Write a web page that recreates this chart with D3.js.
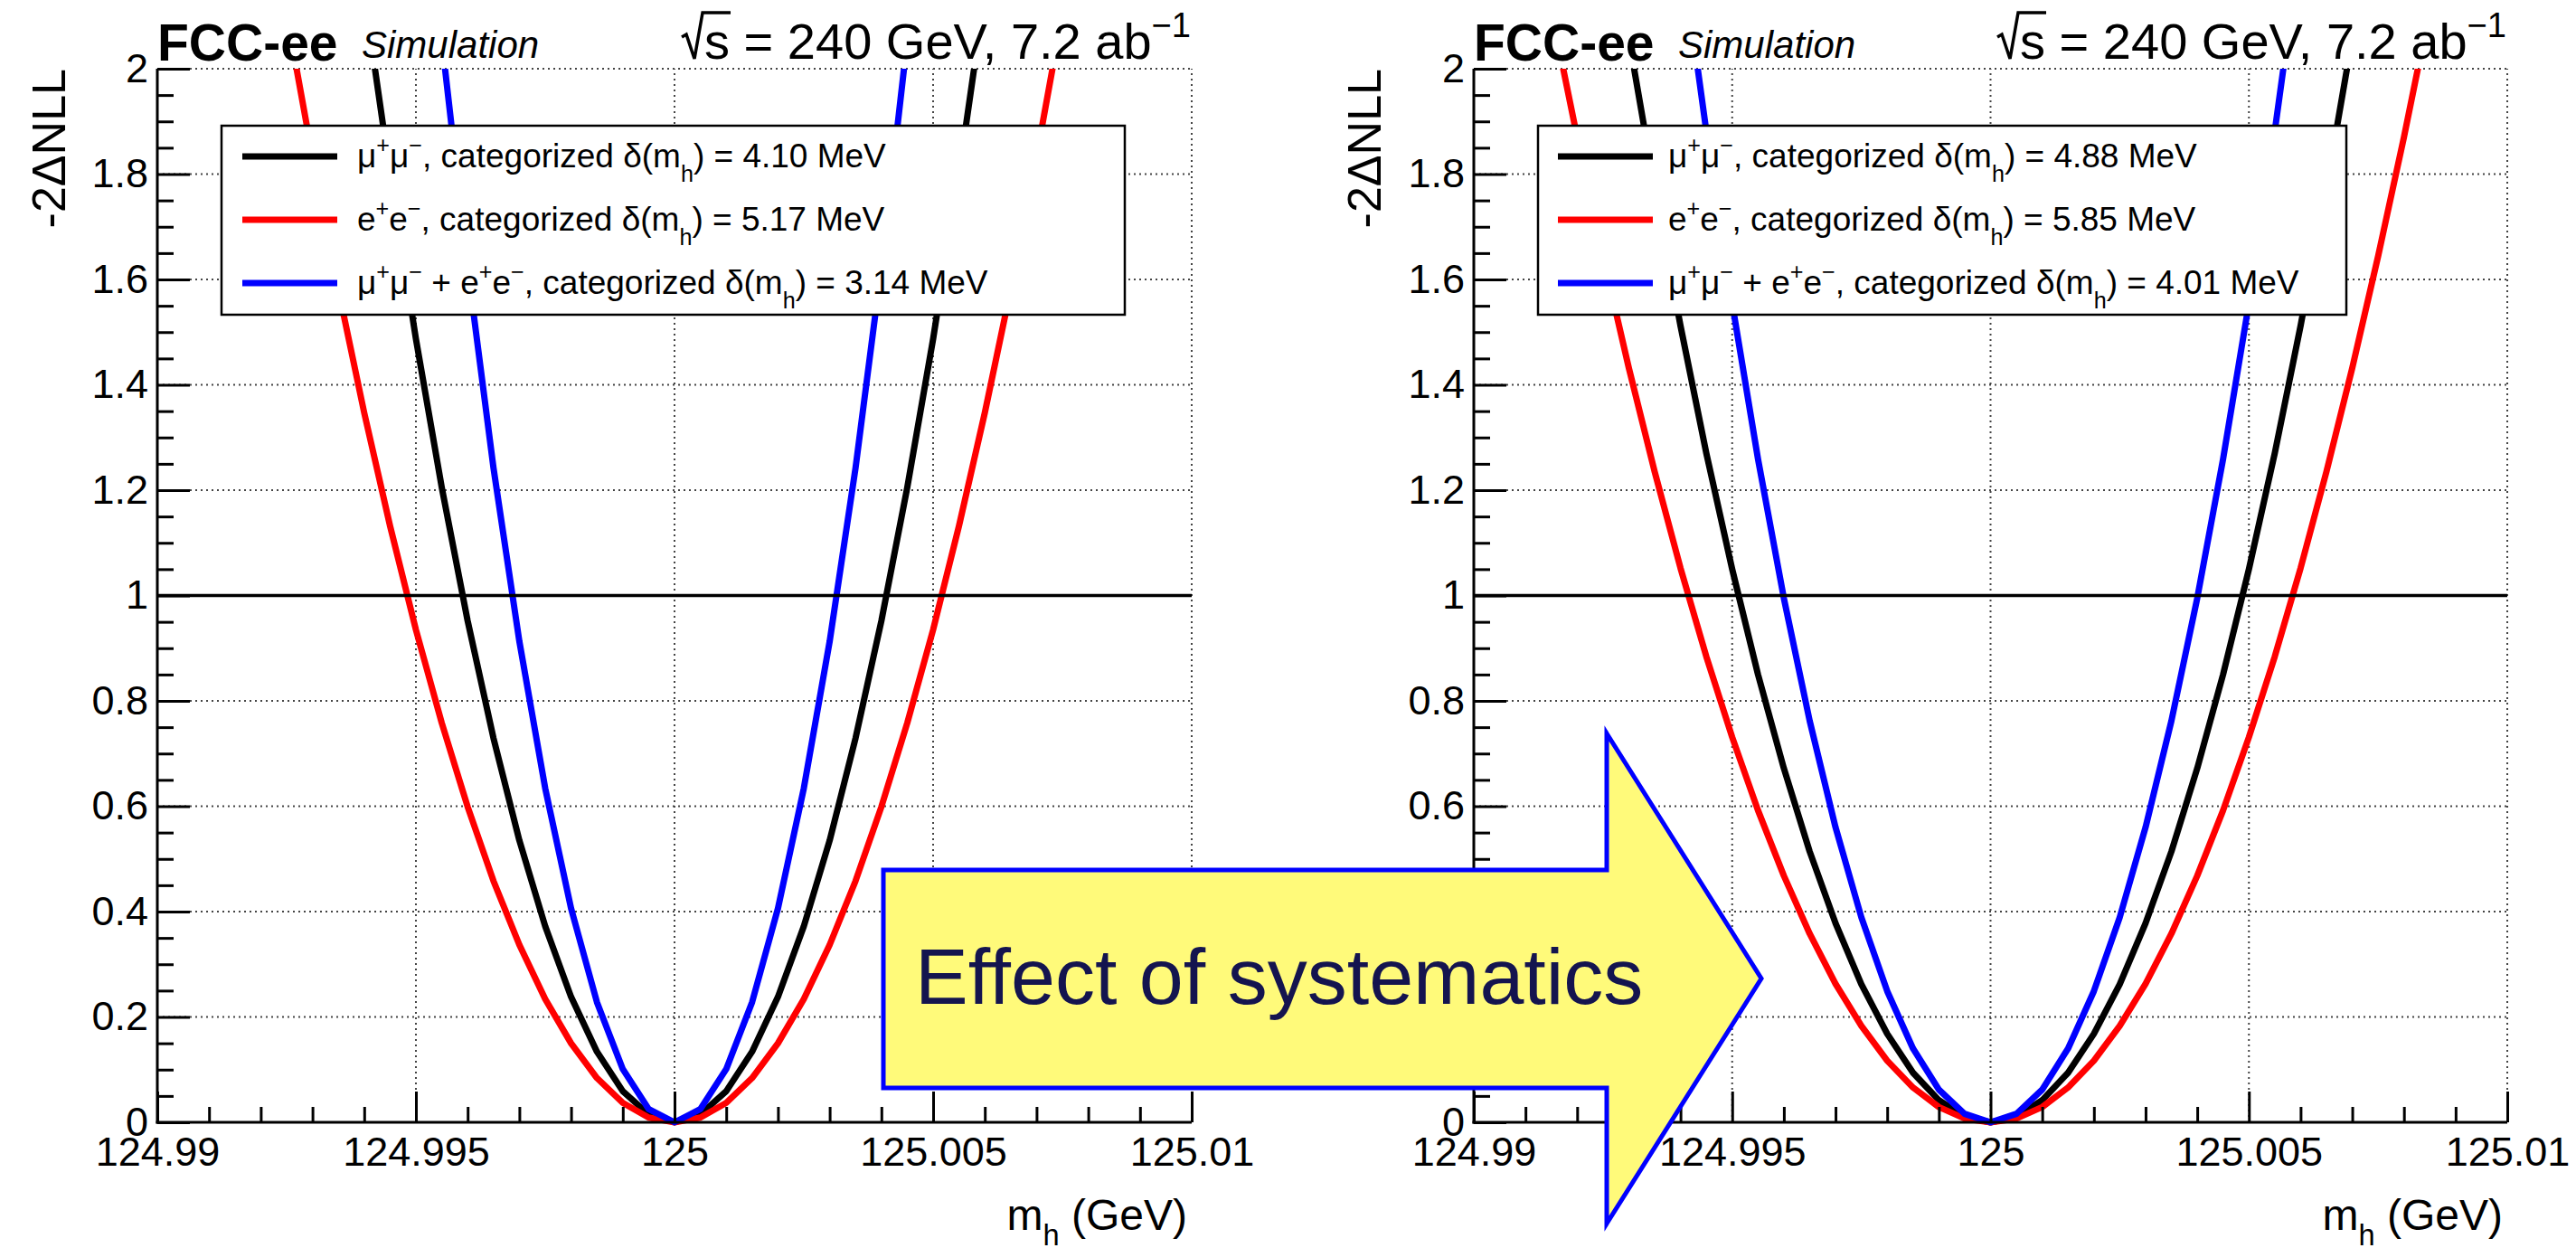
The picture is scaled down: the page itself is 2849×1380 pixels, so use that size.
<!DOCTYPE html>
<html>
<head>
<meta charset="utf-8">
<script src="https://cdn.jsdelivr.net/npm/d3@7"></script>
<style>
  html, body { margin: 0; padding: 0; background: #fff; }
  svg { display: block; font-family: "Liberation Sans", Arial, Helvetica, sans-serif; }
</style>
</head>
<body>
<svg id="fig" width="2849" height="1380"></svg>
<script>
// ---------------------------------------------------------------
// Likelihood scans: -2ΔNLL versus m_h (GeV), one grid for all curves
// ---------------------------------------------------------------
const massGrid = [
  124.9900, 124.9905, 124.9910, 124.9915, 124.9920, 124.9925, 124.9930, 124.9935,
  124.9940, 124.9945, 124.9950, 124.9955, 124.9960, 124.9965, 124.9970, 124.9975,
  124.9980, 124.9985, 124.9990, 124.9995, 125.0000, 125.0005, 125.0010, 125.0015,
  125.0020, 125.0025, 125.0030, 125.0035, 125.0040, 125.0045, 125.0050, 125.0055,
  125.0060, 125.0065, 125.0070, 125.0075, 125.0080, 125.0085, 125.0090, 125.0095,
  125.0100
];

// statistics only
const statMuMu = [5.949, 5.369, 4.819, 4.298, 3.807, 3.346, 2.915, 2.513, 2.142, 1.800, 1.487, 1.205, 0.952, 0.729, 0.535, 0.372, 0.238, 0.134, 0.059, 0.015, 0,
                  0.015, 0.059, 0.134, 0.238, 0.372, 0.535, 0.729, 0.952, 1.205, 1.487, 1.800, 2.142, 2.513, 2.915, 3.346, 3.807, 4.298, 4.819, 5.369, 5.949];
const statEE   = [3.741, 3.376, 3.030, 2.703, 2.394, 2.104, 1.833, 1.581, 1.347, 1.132, 0.935, 0.758, 0.599, 0.458, 0.337, 0.234, 0.150, 0.084, 0.037, 0.009, 0,
                  0.009, 0.037, 0.084, 0.150, 0.234, 0.337, 0.458, 0.599, 0.758, 0.935, 1.132, 1.347, 1.581, 1.833, 2.104, 2.394, 2.703, 3.030, 3.376, 3.741];
const statComb = [10.142, 9.154, 8.215, 7.328, 6.491, 5.705, 4.970, 4.285, 3.651, 3.068, 2.536, 2.054, 1.623, 1.242, 0.913, 0.634, 0.406, 0.228, 0.101, 0.025, 0,
                  0.025, 0.101, 0.228, 0.406, 0.634, 0.913, 1.242, 1.623, 2.054, 2.536, 3.068, 3.651, 4.285, 4.970, 5.705, 6.491, 7.328, 8.215, 9.154, 10.142];

// with systematic uncertainties
const systMuMu = [4.199, 3.790, 3.401, 3.034, 2.687, 2.362, 2.058, 1.774, 1.512, 1.270, 1.050, 0.850, 0.672, 0.514, 0.378, 0.262, 0.168, 0.094, 0.042, 0.010, 0,
                  0.010, 0.042, 0.094, 0.168, 0.262, 0.378, 0.514, 0.672, 0.850, 1.050, 1.270, 1.512, 1.774, 2.058, 2.362, 2.687, 3.034, 3.401, 3.790, 4.199];
const systEE   = [2.922, 2.637, 2.367, 2.111, 1.870, 1.644, 1.432, 1.235, 1.052, 0.884, 0.731, 0.592, 0.468, 0.358, 0.263, 0.183, 0.117, 0.066, 0.029, 0.007, 0,
                  0.007, 0.029, 0.066, 0.117, 0.183, 0.263, 0.358, 0.468, 0.592, 0.731, 0.884, 1.052, 1.235, 1.432, 1.644, 1.870, 2.111, 2.367, 2.637, 2.922];
const systComb = [6.219, 5.613, 5.037, 4.493, 3.980, 3.498, 3.047, 2.627, 2.239, 1.881, 1.555, 1.259, 0.995, 0.762, 0.560, 0.389, 0.249, 0.140, 0.062, 0.016, 0,
                  0.016, 0.062, 0.140, 0.249, 0.389, 0.560, 0.762, 0.995, 1.259, 1.555, 1.881, 2.239, 2.627, 3.047, 3.498, 3.980, 4.493, 5.037, 5.613, 6.219];

// resolution quoted in each legend entry (MeV)
const statDelta = [4.10, 5.17, 3.14];
const systDelta = [4.88, 5.85, 4.01];

const channels = ["mumu", "ee", "comb"];
const channelColors = ["#000000", "#ff0000", "#0000ff"];

// axis ticks
const xMajorTicks = [124.99, 124.995, 125, 125.005, 125.01];
const xTickLabels = ["124.99", "124.995", "125", "125.005", "125.01"];
const yMajorTicks = [0, 0.2, 0.4, 0.6, 0.8, 1, 1.2, 1.4, 1.6, 1.8, 2];
const yTickLabels = ["0", "0.2", "0.4", "0.6", "0.8", "1", "1.2", "1.4", "1.6", "1.8", "2"];
const xMinorTicks = d3.range(0, 21).map(i => 124.99 + i * 0.001).filter((v, i) => i % 5 !== 0);
const yMinorTicks = d3.range(0, 41).map(i => i * 0.05).filter((v, i) => i % 4 !== 0);

// ---------------------------------------------------------------
const svg = d3.select("#fig");
svg.append("rect").attr("width", 2849).attr("height", 1380).attr("fill", "#fff");
const defs = svg.append("defs");

const FONT = "'Liberation Sans', Arial, Helvetica, sans-serif";

// text made of normal / superscript / subscript runs
function richText(sel, parts, size, subShift = 0.42) {
  let cur = 0;
  parts.forEach(([s, mode]) => {
    const off = mode === "sup" ? -0.42 * size : mode === "sub" ? subShift * size : 0;
    sel.append("tspan")
      .attr("dy", off - cur)
      .attr("font-size", mode === "n" ? size : size * 0.68)
      .text(s);
    cur = off;
  });
  return sel;
}

const channelParts = {
  mumu: [["μ", "n"], ["+", "sup"], ["μ", "n"], ["−", "sup"]],
  ee:   [["e", "n"], ["+", "sup"], ["e", "n"], ["−", "sup"]]
};
channelParts.comb = [...channelParts.mumu, [" + ", "n"], ...channelParts.ee];

const panels = [
  { id: "stat", left: 174, right: 1318, data: [statMuMu, statEE, statComb], delta: statDelta,
    legend: { x0: 245, x1: 1244, lineX0: 268, lineX1: 373, textX: 395 }, yTitleX: 72 },
  { id: "syst", left: 1630, right: 2773, data: [systMuMu, systEE, systComb], delta: systDelta,
    legend: { x0: 1701, x1: 2595, lineX0: 1723, lineX1: 1828, textX: 1845 }, yTitleX: 1527 }
];

const TOP = 76, BOTTOM = 1241;

panels.forEach(p => {
  const x = d3.scaleLinear().domain([124.99, 125.01]).range([p.left, p.right]);
  const y = d3.scaleLinear().domain([0, 2]).range([BOTTOM, TOP]);
  const g = svg.append("g");

  // dotted grid at the major ticks (the top and right edges are grid lines too)
  g.append("g").selectAll("line").data(xMajorTicks.slice(1)).join("line")
    .attr("x1", d => x(d)).attr("x2", d => x(d))
    .attr("y1", y(0)).attr("y2", y(2))
    .attr("stroke", "#444").attr("stroke-width", 2).attr("stroke-dasharray", "2,4");
  g.append("g").selectAll("line").data(yMajorTicks.slice(1)).join("line")
    .attr("x1", x(124.99)).attr("x2", x(125.01))
    .attr("y1", d => y(d)).attr("y2", d => y(d))
    .attr("stroke", "#444").attr("stroke-width", 2).attr("stroke-dasharray", "2,4");

  // scan curves
  const clipId = "clip-" + p.id;
  defs.append("clipPath").attr("id", clipId).append("rect")
    .attr("x", p.left).attr("y", TOP)
    .attr("width", p.right - p.left).attr("height", BOTTOM - TOP + 5);
  const line = d3.line().x((d, i) => x(massGrid[i])).y(d => y(d));
  const curves = g.append("g").attr("clip-path", `url(#${clipId})`);
  p.data.forEach((vals, k) => {
    curves.append("path").datum(vals)
      .attr("d", line)
      .attr("fill", "none")
      .attr("stroke", channelColors[k])
      .attr("stroke-width", 7)
      .attr("stroke-linejoin", "round");
  });

  // one-sigma reference line
  g.append("line")
    .attr("x1", x(124.99)).attr("x2", x(125.01))
    .attr("y1", y(1)).attr("y2", y(1))
    .attr("stroke", "#000").attr("stroke-width", 3.5);

  // axes
  const styleAxis = sel => {
    sel.select(".domain").remove();
    sel.selectAll(".tick line").attr("stroke", "#000").attr("stroke-width", 3);
    sel.attr("font-family", FONT).attr("font-size", 45);
    sel.selectAll(".tick text").attr("fill", "#000");
  };
  g.append("g").attr("transform", `translate(0,${BOTTOM})`)
    .call(d3.axisBottom(x).tickValues(xMinorTicks).tickSizeInner(-17).tickSizeOuter(0).tickFormat(""))
    .call(styleAxis);
  g.append("g").attr("transform", `translate(0,${BOTTOM})`)
    .call(d3.axisBottom(x).tickValues(xMajorTicks).tickSizeInner(-34).tickSizeOuter(0)
      .tickPadding(16).tickFormat((d, i) => xTickLabels[i]))
    .call(styleAxis);
  g.append("g").attr("transform", `translate(${p.left},0)`)
    .call(d3.axisLeft(y).tickValues(yMinorTicks).tickSizeInner(-18).tickSizeOuter(0).tickFormat(""))
    .call(styleAxis);
  g.append("g").attr("transform", `translate(${p.left},0)`)
    .call(d3.axisLeft(y).tickValues(yMajorTicks).tickSizeInner(-36).tickSizeOuter(0)
      .tickPadding(10).tickFormat((d, i) => yTickLabels[i]))
    .call(styleAxis);

  g.append("line").attr("x1", p.left).attr("x2", p.left).attr("y1", TOP).attr("y2", BOTTOM + 1.5)
    .attr("stroke", "#000").attr("stroke-width", 3);
  g.append("line").attr("x1", p.left - 1.5).attr("x2", p.right).attr("y1", BOTTOM).attr("y2", BOTTOM)
    .attr("stroke", "#000").attr("stroke-width", 3);

  // axis titles
  richText(g.append("text")
      .attr("x", p.right - 5).attr("y", 1360)
      .attr("text-anchor", "end").attr("font-family", FONT).attr("fill", "#000"),
    [["m", "n"], ["h", "sub"], [" (GeV)", "n"]], 48, 0.36);
  g.append("text")
    .attr("transform", `translate(${p.yTitleX},${TOP}) rotate(-90)`)
    .attr("text-anchor", "end").attr("font-family", FONT).attr("font-size", 52).attr("fill", "#000")
    .text("-2ΔNLL");

  // header
  g.append("text").attr("x", p.left).attr("y", 67)
    .attr("font-family", FONT).attr("font-size", 57).attr("font-weight", "bold").attr("fill", "#000")
    .text("FCC-ee");
  g.append("text").attr("x", p.left + 226).attr("y", 64)
    .attr("font-family", FONT).attr("font-size", 42).attr("font-style", "italic").attr("fill", "#000")
    .text("Simulation");
  const head = richText(g.append("text")
      .attr("x", p.right - 1).attr("y", 65)
      .attr("text-anchor", "end").attr("font-family", FONT).attr("fill", "#000"),
    [["s = 240 GeV, 7.2 ab", "n"], ["−1", "sup"]], 56);
  // radical sign over the "s"
  const sExt = head.node().getExtentOfChar(0);
  const bl = 65, sx = sExt.x, sw = sExt.width;
  g.append("path")
    .attr("d", `M${sx - 25},${bl - 24} L${sx - 20},${bl - 27} L${sx - 11},${bl} L${sx - 2},${bl - 51} L${sx + sw + 1},${bl - 51}`)
    .attr("fill", "none").attr("stroke", "#000").attr("stroke-width", 3.5).attr("stroke-linejoin", "miter");

  // legend
  const L = p.legend;
  const legend = g.append("g");
  legend.append("rect")
    .attr("x", L.x0).attr("y", 139).attr("width", L.x1 - L.x0).attr("height", 348 - 139)
    .attr("fill", "#fff").attr("stroke", "#000").attr("stroke-width", 2.5);
  const rowY = [173, 243, 313];
  channels.forEach((c, k) => {
    legend.append("line")
      .attr("x1", L.lineX0).attr("x2", L.lineX1).attr("y1", rowY[k]).attr("y2", rowY[k])
      .attr("stroke", channelColors[k]).attr("stroke-width", 7);
    richText(legend.append("text")
        .attr("x", L.textX).attr("y", rowY[k] + 12)
        .attr("font-family", FONT).attr("fill", "#000"),
      [...channelParts[c], [", categorized δ(m", "n"], ["h", "sub"],
       [`) = ${d3.format(".2f")(p.delta[k])} MeV`, "n"]], 37);
  });
});

// annotation arrow between the two panels
const arrow = svg.append("g");
arrow.append("path")
  .attr("d", "M977,962 L1777,962 L1777,811 L1948,1082 L1777,1353 L1777,1203 L977,1203 Z")
  .attr("fill", "#fffa7a").attr("stroke", "#0000ff").attr("stroke-width", 5)
  .attr("stroke-linejoin", "miter");
arrow.append("text")
  .attr("x", 1012).attr("y", 1110)
  .attr("font-family", FONT).attr("font-size", 88).attr("fill", "#14144f")
  .text("Effect of systematics");
</script>
</body>
</html>
